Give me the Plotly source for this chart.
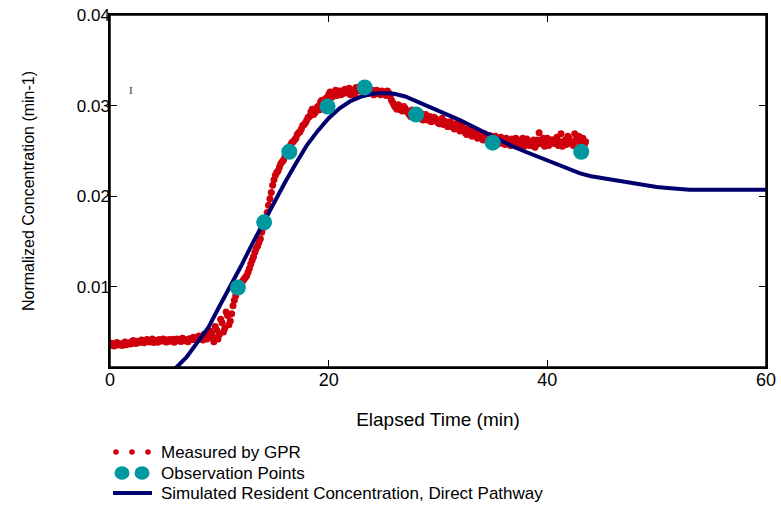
import plotly.graph_objects as go

# ---------------- data ----------------
gpr_time_a = [
    0.00, 0.25, 0.50, 0.75, 1.00, 1.25, 1.50, 1.75, 2.00, 2.25, 2.50, 2.75,
    3.00, 3.25, 3.50, 3.75, 4.00, 4.25, 4.50, 4.75, 5.00, 5.25, 5.50, 5.75,
    6.00, 6.25, 6.50, 6.75, 7.00, 7.25, 7.50, 7.75, 8.00, 8.25, 8.50, 8.75,
    9.00, 9.25, 9.50, 9.75, 10.00, 10.25, 10.50, 10.75, 11.00, 11.25, 11.50, 11.75,
    12.00, 12.25, 12.50, 12.75, 13.00, 13.25, 13.50, 13.75, 14.00, 14.25, 14.50, 14.75,
    15.00, 15.25, 15.50, 15.75, 16.00, 16.25, 16.50, 16.75, 17.00, 17.25, 17.50, 17.75,
    18.00, 18.25, 18.50, 18.75, 19.00, 19.25, 19.50, 19.75, 20.00, 20.25, 20.50, 20.75,
    21.00, 21.25, 21.50, 21.75, 22.00, 22.25, 22.50, 22.75, 23.00, 23.25, 23.50, 23.75,
    24.00, 24.25, 24.50, 24.75, 25.00, 25.25, 25.50, 25.75, 26.00, 26.25, 26.50, 26.75,
    27.00, 27.25, 27.50, 27.75, 28.00, 28.25, 28.50, 28.75, 29.00, 29.25, 29.50, 29.75,
    30.00, 30.25, 30.50, 30.75, 31.00, 31.25, 31.50, 31.75, 32.00, 32.25, 32.50, 32.75,
    33.00, 33.25, 33.50, 33.75, 34.00, 34.25, 34.50, 34.75, 35.00, 35.25, 35.50, 35.75,
    36.00, 36.25, 36.50, 36.75, 37.00, 37.25, 37.50, 37.75, 38.00, 38.25, 38.50, 38.75,
    39.00, 39.25, 39.50, 39.75, 40.00, 40.25, 40.50, 40.75, 41.00, 41.25, 41.50, 41.75,
    42.00, 42.25, 42.50, 42.75, 43.00, 43.25, 43.50,
]
gpr_conc_a = [
    0.00360, 0.00352, 0.00368, 0.00355, 0.00362, 0.00374, 0.00358, 0.00380, 0.00392, 0.00378, 0.00396, 0.00385,
    0.00402, 0.00390, 0.00408, 0.00395, 0.00384, 0.00405, 0.00416, 0.00398, 0.00410, 0.00392, 0.00404, 0.00418,
    0.00400, 0.00412, 0.00395, 0.00420, 0.00408, 0.00425, 0.00415, 0.00432, 0.00420, 0.00445, 0.00410, 0.00460,
    0.00435, 0.00480, 0.00390, 0.00520, 0.00470, 0.00600, 0.00540, 0.00680, 0.00620, 0.00790, 0.00900, 0.00980,
    0.01040, 0.01080, 0.01120, 0.01200, 0.01290, 0.01380, 0.01450, 0.01530, 0.01650, 0.01740, 0.01900, 0.02040,
    0.02180, 0.02260, 0.02320, 0.02380, 0.02440, 0.02500, 0.02560, 0.02600, 0.02640, 0.02700, 0.02740, 0.02790,
    0.02840, 0.02880, 0.02960, 0.02920, 0.02990, 0.03040, 0.03010, 0.03080, 0.03120, 0.03090, 0.03140, 0.03110,
    0.03160, 0.03130, 0.03180, 0.03150, 0.03120, 0.03170, 0.03200, 0.03160, 0.03190, 0.03220, 0.03180, 0.03140,
    0.03170, 0.03130, 0.03160, 0.03120, 0.03150, 0.03110, 0.03140, 0.03060, 0.03000, 0.02960, 0.02990, 0.02940,
    0.02970, 0.02920, 0.02880, 0.02930, 0.02890, 0.02860, 0.02910, 0.02870, 0.02840, 0.02880, 0.02830, 0.02860,
    0.02810, 0.02840, 0.02790, 0.02820, 0.02770, 0.02800, 0.02740, 0.02780, 0.02720, 0.02760, 0.02700, 0.02740,
    0.02680, 0.02720, 0.02660, 0.02700, 0.02650, 0.02690, 0.02630, 0.02670, 0.02620, 0.02660, 0.02610, 0.02650,
    0.02600, 0.02640, 0.02590, 0.02630, 0.02580, 0.02620, 0.02570, 0.02640, 0.02580, 0.02610, 0.02560, 0.02620,
    0.02570, 0.02700, 0.02590, 0.02550, 0.02640, 0.02580, 0.02620, 0.02610, 0.02560, 0.02690, 0.02600, 0.02570,
    0.02630, 0.02580, 0.02690, 0.02610, 0.02570, 0.02640, 0.02600,
]
gpr_time_b = [
    0.125, 0.375, 0.625, 0.875, 1.125, 1.375, 1.625, 1.875, 2.125, 2.375, 2.625, 2.875,
    3.125, 3.375, 3.625, 3.875, 4.125, 4.375, 4.625, 4.875, 5.125, 5.375, 5.625, 5.875,
    6.125, 6.375, 6.625, 6.875, 7.125, 7.375, 7.625, 7.875, 8.125, 8.375, 8.625, 8.875,
    9.125, 9.375, 9.625, 9.875, 10.125, 10.375, 10.625, 10.875, 11.125, 11.375, 11.625, 11.875,
    12.125, 12.375, 12.625, 12.875, 13.125, 13.375, 13.625, 13.875, 14.125, 14.375, 14.625, 14.875,
    15.125, 15.375, 15.625, 15.875, 16.125, 16.375, 16.625, 16.875, 17.125, 17.375, 17.625, 17.875,
    18.125, 18.375, 18.625, 18.875, 19.125, 19.375, 19.625, 19.875, 20.125, 20.375, 20.625, 20.875,
    21.125, 21.375, 21.625, 21.875, 22.125, 22.375, 22.625, 22.875, 23.125, 23.375, 23.625, 23.875,
    24.125, 24.375, 24.625, 24.875, 25.125, 25.375, 25.625, 25.875, 26.125, 26.375, 26.625, 26.875,
    27.125, 27.375, 27.625, 27.875, 28.125, 28.375, 28.625, 28.875, 29.125, 29.375, 29.625, 29.875,
    30.125, 30.375, 30.625, 30.875, 31.125, 31.375, 31.625, 31.875, 32.125, 32.375, 32.625, 32.875,
    33.125, 33.375, 33.625, 33.875, 34.125, 34.375, 34.625, 34.875, 35.125, 35.375, 35.625, 35.875,
    36.125, 36.375, 36.625, 36.875, 37.125, 37.375, 37.625, 37.875, 38.125, 38.375, 38.625, 38.875,
    39.125, 39.375, 39.625, 39.875, 40.125, 40.375, 40.625, 40.875, 41.125, 41.375, 41.625, 41.875,
    42.125, 42.375, 42.625, 42.875, 43.125, 43.375,
]
gpr_conc_b = [
    0.00375, 0.00345, 0.00382, 0.00370, 0.00350, 0.00388, 0.00372, 0.00365, 0.00405, 0.00372, 0.00382, 0.00410,
    0.00380, 0.00415, 0.00388, 0.00420, 0.00395, 0.00385, 0.00402, 0.00422, 0.00388, 0.00415, 0.00396, 0.00385,
    0.00422, 0.00398, 0.00430, 0.00402, 0.00390, 0.00418, 0.00440, 0.00410, 0.00455, 0.00430, 0.00475, 0.00420,
    0.00510, 0.00455, 0.00560, 0.00420, 0.00640, 0.00500, 0.00720, 0.00580, 0.00700, 0.00850, 0.00940, 0.01000,
    0.01060, 0.01100, 0.01160, 0.01250, 0.01330, 0.01420, 0.01490, 0.01600, 0.01690, 0.01820, 0.01970, 0.02120,
    0.02230, 0.02280, 0.02360, 0.02400, 0.02480, 0.02520, 0.02590, 0.02620, 0.02680, 0.02710, 0.02780, 0.02810,
    0.02870, 0.02930, 0.02900, 0.02970, 0.02950, 0.03060, 0.03040, 0.03060, 0.03150, 0.03100, 0.03170, 0.03130,
    0.03120, 0.03170, 0.03140, 0.03190, 0.03150, 0.03120, 0.03180, 0.03210, 0.03170, 0.03150, 0.03200, 0.03160,
    0.03120, 0.03170, 0.03130, 0.03160, 0.03130, 0.03160, 0.03100, 0.03030, 0.02980, 0.03010, 0.02950, 0.02990,
    0.02940, 0.02900, 0.02950, 0.02870, 0.02910, 0.02880, 0.02840, 0.02900, 0.02860, 0.02820, 0.02870, 0.02830,
    0.02800, 0.02860, 0.02810, 0.02770, 0.02820, 0.02760, 0.02800, 0.02740, 0.02790, 0.02720, 0.02680, 0.02720,
    0.02660, 0.02700, 0.02640, 0.02680, 0.02620, 0.02660, 0.02610, 0.02650, 0.02600, 0.02640, 0.02580, 0.02620,
    0.02570, 0.02610, 0.02560, 0.02600, 0.02640, 0.02580, 0.02610, 0.02550, 0.02630, 0.02560, 0.02600, 0.02540,
    0.02620, 0.02580, 0.02640, 0.02600, 0.02560, 0.02620, 0.02580, 0.02650, 0.02600, 0.02550, 0.02620, 0.02660,
    0.02600, 0.02560, 0.02620, 0.02660, 0.02590, 0.02560,
]

obs_time = [11.7, 14.1, 16.4, 19.9, 23.3, 28.0, 35.0, 43.1]
obs_conc = [0.0099, 0.0171, 0.0249, 0.0299, 0.0320, 0.0290, 0.0259, 0.0249]

sim_time = [5.0, 6.0, 7.0, 8.0, 9.0, 10.0, 11.0, 12.0, 13.0, 14.0, 15.0, 16.0, 17.0,
            18.0, 19.0, 20.0, 21.0, 22.0, 23.0, 24.0, 25.0, 26.0, 27.0, 28.0, 29.0,
            30.0, 31.0, 32.0, 33.0, 34.0, 35.0, 36.0, 37.0, 38.0, 39.0, 40.0, 41.0,
            42.0, 43.0, 44.0, 45.0, 46.0, 47.0, 48.0, 49.0, 50.0, 51.0, 52.0, 53.0,
            55.0, 58.0, 60.0]
sim_conc = [-0.0004, 0.0010, 0.0022, 0.0038, 0.0055, 0.0078, 0.0100, 0.0123, 0.0147,
            0.0170, 0.0193, 0.0215, 0.0236, 0.0256, 0.0272, 0.0286, 0.0297, 0.0305,
            0.0310, 0.0313, 0.0314, 0.0313, 0.0310, 0.0305, 0.0299, 0.0294, 0.0290,
            0.0284, 0.0278, 0.0272, 0.0265, 0.0259, 0.0254, 0.0249, 0.0244, 0.0239,
            0.0234, 0.0229, 0.0225, 0.0222, 0.0220, 0.0217, 0.0215, 0.0214, 0.0212,
            0.0210, 0.0209, 0.0208, 0.0207, 0.0207, 0.0207, 0.0207]

x_ticks = [0, 20, 40, 60]
y_ticks = [0.01, 0.02, 0.03, 0.04]
y_tick_text = ["0.01", "0.02", "0.03", "0.04"]

legend_labels = ["Measured by GPR", "Observation Points",
                 "Simulated Resident Concentration, Direct Pathway"]

RED = "#cf000c"
TEAL = "#00979f"
NAVY = "#00006e"

# ---------------- layout geometry (pixels) ----------------
# the page body margin is removed (post_script below), so the figure fills the window
W, H = 781, 505
L, R, T, B = 110, 15, 15, 138
PW, PH = W - L - R, H - T - B


def xp(px):
    return (px - L) / PW


def yp(py):
    return (H - B - py) / PH


gpr_time = gpr_time_a + gpr_time_b
gpr_conc = gpr_conc_a + gpr_conc_b

fig = go.Figure()
fig.add_trace(go.Scatter(x=gpr_time, y=gpr_conc, mode="markers", name=legend_labels[0],
                         marker=dict(color=RED, size=7, line=dict(width=0))))
fig.add_trace(go.Scatter(x=sim_time, y=sim_conc, mode="lines", name=legend_labels[2],
                         line=dict(color=NAVY, width=4)))
fig.add_trace(go.Scatter(x=obs_time, y=obs_conc, mode="markers", name=legend_labels[1],
                         marker=dict(color=TEAL, size=16, line=dict(width=0))))

font = "Liberation Sans, Arial, sans-serif"

fig.update_layout(
    width=W, height=H,
    margin=dict(l=L, r=R, t=T, b=B, autoexpand=False),
    paper_bgcolor="white", plot_bgcolor="white",
    showlegend=False,
    font=dict(family=font, size=18, color="black"),
    xaxis=dict(range=[0, 60.0001], tickvals=x_ticks, ticks="inside", ticklen=7,
               tickcolor="black", tickwidth=1, showline=True, linecolor="black",
               linewidth=1.5, mirror="ticks", showgrid=False, zeroline=False,
               automargin=False, tickfont=dict(size=18), ticklabelstandoff=-4,
               ticklabeloverflow="allow",
               title=dict(text="Elapsed Time (min)", font=dict(size=19), standoff=23)),
    yaxis=dict(range=[0.00112, 0.040005], tickvals=y_ticks, ticktext=y_tick_text,
               ticks="inside", ticklen=7, tickcolor="black", tickwidth=1,
               showline=True, linecolor="black", linewidth=1.5, mirror="ticks",
               showgrid=False, zeroline=False, automargin=False, tickfont=dict(size=17),
               ticklabelstandoff=-5, ticklabeloverflow="allow",
               title=dict(text="Normalized Concentration (min-1)", font=dict(size=16),
                          standoff=38)),
)

# plot frame (box) drawn explicitly so the top edge is always present
shapes = [dict(type="rect", xref="paper", yref="paper", x0=0, x1=1, y0=0, y1=1,
               line=dict(color="black", width=1.5), layer="above")]

# custom legend below the plot
for cx in (116, 132, 148):
    shapes.append(dict(type="circle", xref="paper", yref="paper", xsizemode="pixel",
                       ysizemode="pixel", xanchor=xp(cx), yanchor=yp(452),
                       x0=-2.8, x1=2.8, y0=-2.8, y1=2.8, fillcolor=RED,
                       line=dict(width=0)))
for cx in (122, 142):
    shapes.append(dict(type="circle", xref="paper", yref="paper", xsizemode="pixel",
                       ysizemode="pixel", xanchor=xp(cx), yanchor=yp(473),
                       x0=-7.5, x1=7.5, y0=-6.8, y1=6.8, fillcolor=TEAL,
                       line=dict(width=0)))
shapes.append(dict(type="line", xref="paper", yref="paper", x0=xp(113), x1=xp(152),
                   y0=yp(493), y1=yp(493), line=dict(color=NAVY, width=4)))

annotations = []
for label, py in zip(legend_labels, (452, 473, 493)):
    annotations.append(dict(text=label, xref="paper", yref="paper", x=xp(159), y=yp(py),
                            xanchor="left", yanchor="middle", showarrow=False,
                            font=dict(size=17, family=font, color="black")))
annotations.append(dict(text="I", xref="paper", yref="paper", x=xp(131), y=yp(90),
                        xanchor="center", yanchor="middle", showarrow=False,
                        font=dict(size=11, family="Liberation Serif, serif", color="#333")))

fig.update_layout(shapes=shapes, annotations=annotations)
fig.write_html("out.html",
               config={"displayModeBar": False},
               post_script="document.body.style.margin='0px';"
                           "document.body.style.overflow='hidden';")
